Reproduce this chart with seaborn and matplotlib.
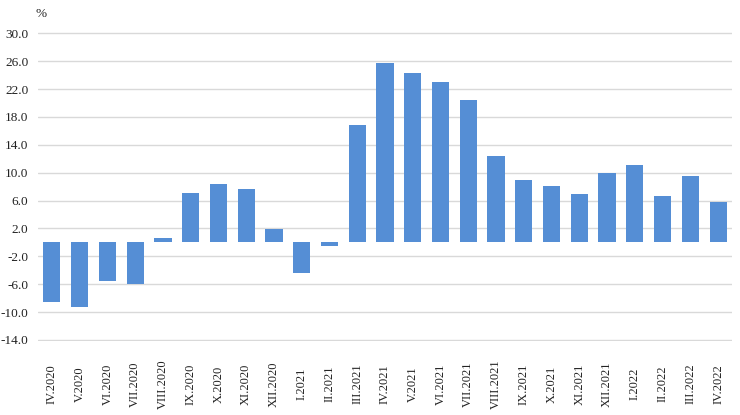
import numpy as np
import pandas as pd
import matplotlib
matplotlib.use("Agg")
import matplotlib.pyplot as plt
import seaborn as sns

# --- Data (% change) ---
months = ["IV.2020", "V.2020", "VI.2020", "VII.2020", "VIII.2020", "IX.2020",
          "X.2020", "XI.2020", "XII.2020", "I.2021", "II.2021", "III.2021",
          "IV.2021", "V.2021", "VI.2021", "VII.2021", "VIII.2021", "IX.2021",
          "X.2021", "XI.2021", "XII.2021", "I.2022", "II.2022", "III.2022",
          "IV.2022"]
values = [-8.5, -9.2, -5.6, -5.9, 0.6, 7.1,
          8.4, 7.6, 1.9, -4.4, -0.5, 16.9,
          25.8, 24.3, 23.0, 20.5, 12.4, 9.0,
          8.1, 7.0, 9.9, 11.1, 6.7, 9.6,
          5.8]
y_ticks = [30, 26, 22, 18, 14, 10, 6, 2, -2, -6, -10, -14]

df = pd.DataFrame({"month": months, "value": values})

sns.set_theme(style="white")
plt.rcParams["font.family"] = ["Liberation Serif", "DejaVu Serif"]

fig = plt.figure(figsize=(7.4, 4.15), dpi=100)
ax = fig.add_axes([38 / 740, 1 - 341 / 415, (732 - 38) / 740, (341 - 32.3) / 415])

ax.set_axisbelow(True)
ax.grid(axis="y", color="#d9d9d9", linewidth=1.0)
ax.grid(axis="x", visible=False)

sns.barplot(data=df, x="month", y="value", color="#558ED5", saturation=1,
            width=0.62, linewidth=0, ax=ax)

ax.set_ylim(-14.15, 30.15)
ax.set_yticks(y_ticks)
ax.set_yticklabels([f"{t:.1f}" for t in y_ticks], fontsize=9.5, color="#222222")
ax.set_xlim(-0.5, len(months) - 0.5)
ax.set_xlabel("")
ax.set_ylabel("")

for lab in ax.get_xticklabels():
    lab.set_rotation(90)
    lab.set_va("center")
    lab.set_ha("center")
    lab.set_fontsize(9)
    lab.set_color("#222222")

ax.tick_params(axis="x", length=0, pad=31)
ax.tick_params(axis="y", length=0, pad=7)

for s in ax.spines.values():
    s.set_visible(False)

fig.text(36 / 740, 1 - 14 / 415, "%", fontsize=9.5, color="#222222",
         ha="left", va="center")

fig.savefig("out.png", dpi=100)
